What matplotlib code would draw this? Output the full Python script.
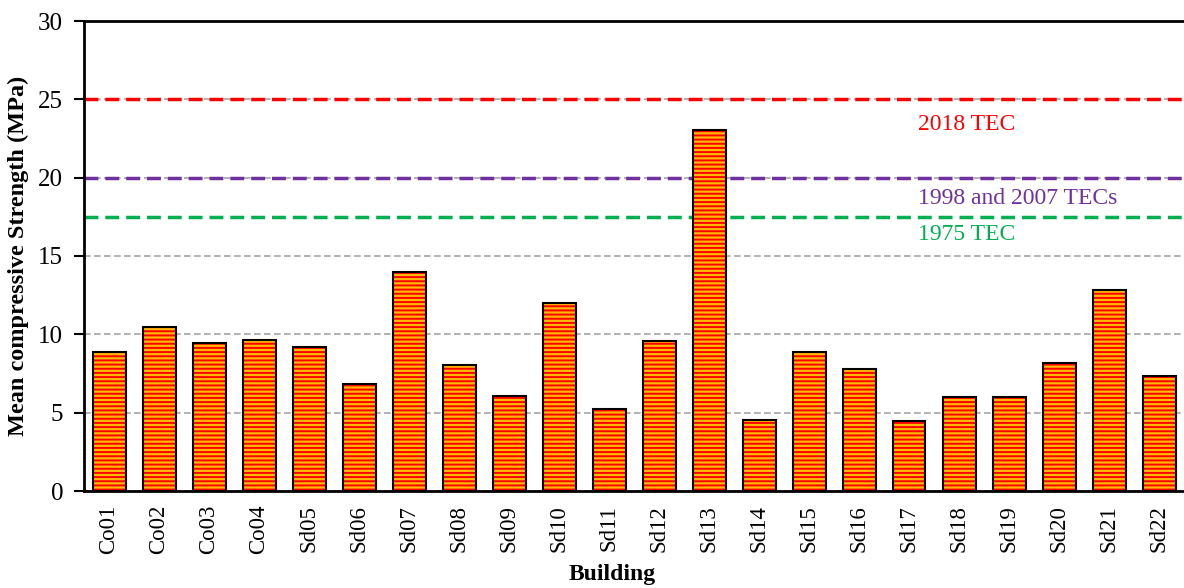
import numpy as np
import matplotlib.pyplot as plt

plt.rcParams['font.family'] = ['Liberation Serif', 'DejaVu Serif']
plt.rcParams['hatch.linewidth'] = 1.4

buildings = ["Co01", "Co02", "Co03", "Co04", "Sd05", "Sd06", "Sd07", "Sd08",
             "Sd09", "Sd10", "Sd11", "Sd12", "Sd13", "Sd14", "Sd15", "Sd16",
             "Sd17", "Sd18", "Sd19", "Sd20", "Sd21", "Sd22"]
strength = [8.9, 10.45, 9.45, 9.65, 9.2, 6.8, 14.0, 8.05,
            6.05, 12.0, 5.25, 9.55, 23.05, 4.55, 8.9, 7.8,
            4.5, 6.0, 6.0, 8.15, 12.85, 7.35]

# code limits (MPa)
code_labels = ["2018 TEC", "1998 and 2007 TECs", "1975 TEC"]
code_values = [25.0, 20.0, 17.5]
code_colors = ["#FF0000", "#7030A0", "#00B050"]
code_text_y = [23.4, 18.65, 16.35]

fig = plt.figure(figsize=(11.84, 5.88), dpi=100)
ax = fig.add_axes([84 / 1184, 1 - 491 / 588, 1100 / 1184, 470 / 588])

x = np.arange(len(buildings))
# striped fill: red hatch over orange-yellow, then black outline on top
ax.bar(x, strength, width=0.66, color="#FFB800", edgecolor="#FF0000",
       linewidth=0, hatch="----", zorder=3)
ax.bar(x, strength, width=0.66, fill=False, edgecolor="black",
       linewidth=1.5, zorder=4)

for val, col in zip(code_values, code_colors):
    ax.axhline(val, color=col, linestyle=(0, (4, 2)), linewidth=2.5, zorder=2)
for lab, ty, col in zip(code_labels, code_text_y, code_colors):
    ax.text(16.18, ty, lab, color=col, fontsize=17, ha="left", va="center")

ax.set_ylim(0, 30)
ax.set_xlim(-0.5, 21.5)
ax.set_yticks(np.arange(0, 31, 5))
ax.yaxis.grid(True, color="#A6A6A6", linestyle=(0, (4, 2)), linewidth=1.2, zorder=0)
ax.set_axisbelow(True)

ax.set_xticks(x)
ax.set_xticklabels(buildings, rotation=90, fontsize=16.5)
ax.tick_params(axis="x", length=0, pad=10)
ax.tick_params(axis="y", labelsize=18, length=7, width=1.5, direction="out", pad=8)

for side in ["left", "bottom", "top"]:
    ax.spines[side].set_linewidth(2)
ax.spines["right"].set_visible(False)

ax.set_ylabel("Mean compressive Strength (MPa)", fontsize=17.5, fontweight="bold")
ax.yaxis.set_label_coords(-(84 - 29) / 1100, 0.5)
ax.set_xlabel("Building", fontsize=17, fontweight="bold")
ax.xaxis.set_label_coords((612 - 84) / 1100, -(564 - 491) / 470)

fig.savefig("out.png", dpi=100)
